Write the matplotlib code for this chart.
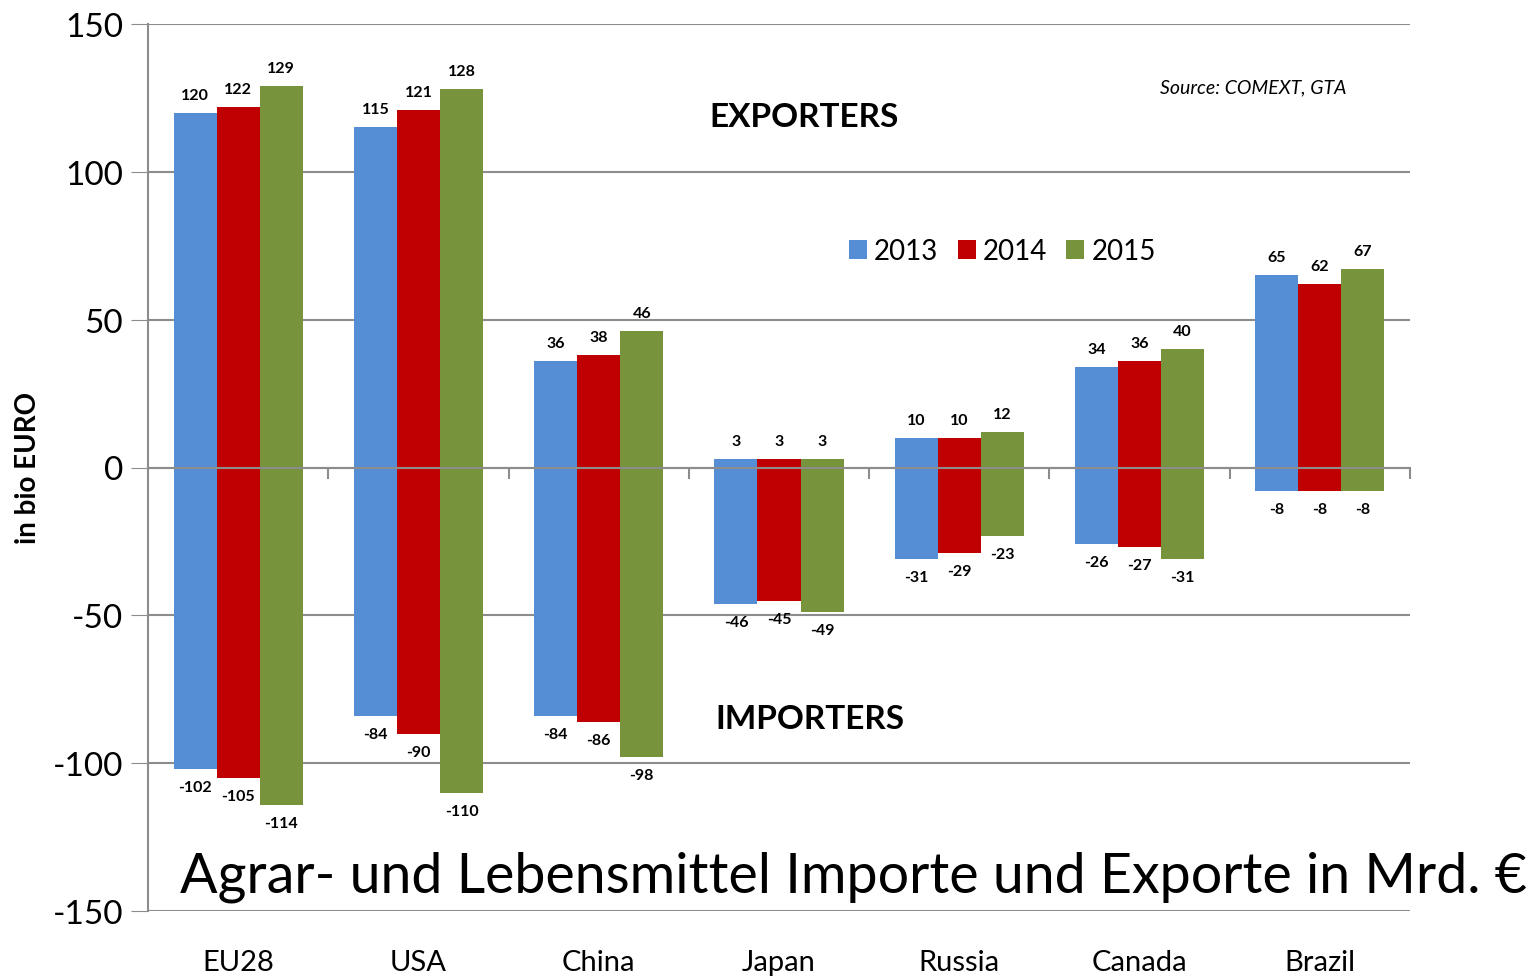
import numpy as np
import matplotlib
matplotlib.use("Agg")
import matplotlib.pyplot as plt

plt.rcParams['font.family'] = ['Lato', 'DejaVu Sans']
plt.rcParams['axes.unicode_minus'] = False

# data
countries = ["EU28", "USA", "China", "Japan", "Russia", "Canada", "Brazil"]
years = ["2013", "2014", "2015"]
exports_2013 = [120, 115, 36, 3, 10, 34, 65]
exports_2014 = [122, 121, 38, 3, 10, 36, 62]
exports_2015 = [129, 128, 46, 3, 12, 40, 67]
imports_2013 = [-102, -84, -84, -46, -31, -26, -8]
imports_2014 = [-105, -90, -86, -45, -29, -27, -8]
imports_2015 = [-114, -110, -98, -49, -23, -31, -8]

exports = [exports_2013, exports_2014, exports_2015]
imports = [imports_2013, imports_2014, imports_2015]
colors = ["#558ED5", "#C00000", "#77933C"]
grid_c = "#8c8c8c"

W, H = 1536, 979
fig = plt.figure(figsize=(W / 100, H / 100), dpi=100)
ax = fig.add_axes([148 / W, 1 - 912 / H, (1410 - 148) / W, (912 - 25) / H])

x = np.arange(len(countries))
w = 0.239
for k in range(3):
    xs = x + (k - 1) * w
    ax.bar(xs, exports[k], w, color=colors[k], label=years[k], zorder=3)
    ax.bar(xs, imports[k], w, color=colors[k], zorder=3)
    for xi, v in zip(xs, exports[k]):
        ax.annotate(str(v), (xi, v), xytext=(0, 8), textcoords="offset points",
                    ha="center", va="bottom", fontsize=11.5, fontweight="bold")
    for xi, v in zip(xs, imports[k]):
        ax.annotate(str(v), (xi, v), xytext=(0, -8), textcoords="offset points",
                    ha="center", va="top", fontsize=11.5, fontweight="bold")

ax.set_xlim(-0.5, len(countries) - 0.5)
ax.set_ylim(-150, 150)
ax.set_yticks(np.arange(-150, 151, 50))
ax.tick_params(axis="y", length=12, color=grid_c, labelsize=24, pad=6)
ax.yaxis.grid(True, color=grid_c, linewidth=1.5, zorder=0)
ax.set_axisbelow(True)

for s in ["top", "right"]:
    ax.spines[s].set_visible(False)
ax.spines["left"].set_color(grid_c)
ax.spines["left"].set_linewidth(1.5)
ax.spines["bottom"].set_position(("data", 0))
ax.spines["bottom"].set_color(grid_c)
ax.spines["bottom"].set_linewidth(1.5)
ax.spines["bottom"].set_zorder(4)
ax.set_xticks(np.arange(len(countries)) + 0.5)
ax.set_xticklabels([])
ax.tick_params(axis="x", length=8, color=grid_c, width=1.5)

for xi, name in zip(x, countries):
    ax.text(xi, -0.058, name, transform=ax.get_xaxis_transform(),
            ha="center", va="center", fontsize=21)

ax.set_ylabel("in bio EURO", fontsize=20, fontweight="bold")
ax.yaxis.set_label_coords(-0.085, 0.5)

ax.text(0.52, 0.896, "EXPORTERS", transform=ax.transAxes, fontsize=24,
        fontweight="bold", ha="center", va="center")
ax.text(0.5246, 0.2165, "IMPORTERS", transform=ax.transAxes, fontsize=24,
        fontweight="bold", ha="center", va="center")
ax.text(0.876, 0.929, "Source: COMEXT, GTA", transform=ax.transAxes,
        fontsize=14, style="italic", ha="center", va="center")

ax.legend(loc="center", bbox_to_anchor=(0.677, 0.744), ncol=3, frameon=False,
          fontsize=20, handlelength=0.65, handleheight=0.65, handletextpad=0.25,
          columnspacing=0.7)

fig.text(1527 / W, 1 - 877 / H, "Agrar- und Lebensmittel Importe und Exporte in Mrd. €",
         ha="right", va="center", fontsize=40)

fig.savefig("out.png", dpi=100)
